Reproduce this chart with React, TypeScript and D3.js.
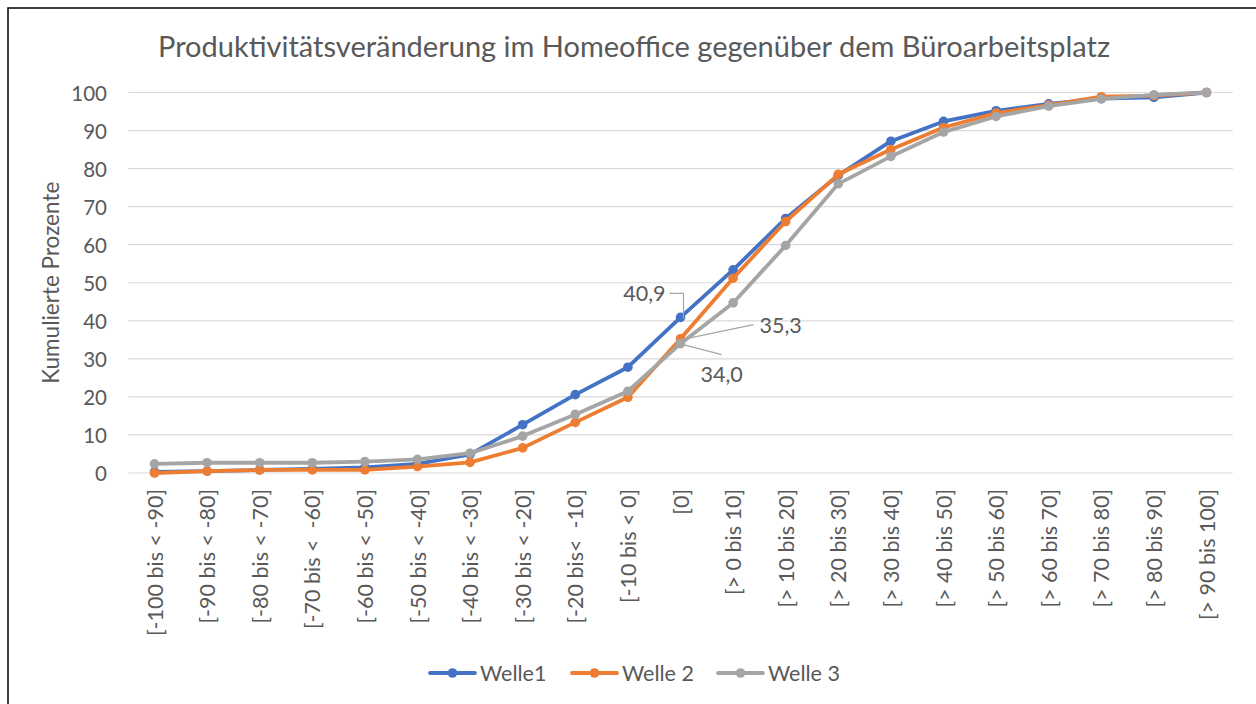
import React from "react";
import * as d3 from "d3";

const categories = [
  "[-100 bis < -90]", "[-90 bis < -80]", "[-80 bis < -70]", "[-70 bis <  -60]",
  "[-60 bis < -50]", "[-50 bis < -40]", "[-40 bis < -30]", "[-30 bis < -20]",
  "[-20 bis<  -10]", "[-10 bis < 0]", "[0]", "[> 0 bis 10]", "[> 10 bis 20]",
  "[> 20 bis 30]", "[> 30 bis 40]", "[> 40 bis 50]", "[> 50 bis 60]",
  "[> 60 bis 70]", "[> 70 bis 80]", "[> 80 bis 90]", "[> 90 bis 100]",
];

const welle1 = [0.3, 0.5, 0.8, 1.1, 1.5, 2.4, 4.9, 12.7, 20.6, 27.8, 40.9, 53.4, 66.9, 78.2, 87.2, 92.4, 95.2, 97.0, 98.4, 98.7, 100];
const welle2 = [0.0, 0.5, 0.8, 0.8, 0.8, 1.7, 2.8, 6.6, 13.3, 19.9, 35.3, 51.2, 66.1, 78.5, 85.0, 90.8, 94.6, 96.7, 98.9, 99.2, 100];
const welle3 = [2.4, 2.7, 2.7, 2.7, 3.0, 3.6, 5.2, 9.7, 15.4, 21.5, 34.0, 44.7, 59.8, 76.0, 83.2, 89.6, 93.7, 96.4, 98.3, 99.4, 100];

const seriesNames = ["Welle1", "Welle 2", "Welle 3"];
const yTicks = [0, 10, 20, 30, 40, 50, 60, 70, 80, 90, 100];

const colors = ["#4472C4", "#ED7D31", "#A5A5A5"];
const FONT = "Lato, 'Open Sans', sans-serif";
const TXT = "#595959";

export default function App() {
  const W = 1256, H = 704;
  const x = d3.scalePoint<string>().domain(categories).range([154.5, 1206.5]);
  const y = d3.scaleLinear().domain([0, 100]).range([473, 92.5]);
  const series = [welle1, welle2, welle3];
  const line = d3
    .line<number>()
    .x((_, i) => x(categories[i]) as number)
    .y((d) => y(d));
  const step = x.step();
  const gx0 = (x(categories[0]) as number) - step / 2;
  const gx1 = (x(categories[categories.length - 1]) as number) + step / 2;

  const labelIdx = 10;
  const px = x(categories[labelIdx]) as number;
  const fmt = (v: number) => v.toFixed(1).replace(".", ",");

  const legendItems = [
    { x0: 430, tx: 480 },
    { x0: 572, tx: 622 },
    { x0: 718, tx: 768 },
  ];

  return (
    <svg
      width={W}
      height={H}
      style={{ position: "absolute", left: 0, top: 0, display: "block", background: "#fff" }}
      fontFamily={FONT}
    >
      <rect x={8} y={8} width={1300} height={800} fill="#fff" stroke="#000" strokeWidth={1.5} />
      <text x={634} y={57} textAnchor="middle" fontSize={29} fill={TXT}>
        Produktivitätsveränderung im Homeoffice gegenüber dem Büroarbeitsplatz
      </text>
      {yTicks.map((t) => (
        <g key={t}>
          <line x1={gx0} x2={gx1} y1={y(t)} y2={y(t)} stroke="#D9D9D9" strokeWidth={1.2} />
          <text x={107} y={y(t)} textAnchor="end" dominantBaseline="central" fontSize={20.5} fill={TXT}>
            {t}
          </text>
        </g>
      ))}
      <text
        transform={`translate(50,${(y(0) + y(100)) / 2}) rotate(-90)`}
        textAnchor="middle"
        dominantBaseline="central"
        fontSize={22.5}
        fill={TXT}
      >
        Kumulierte Prozente
      </text>
      {categories.map((c) => (
        <text
          key={c}
          transform={`translate(${x(c)},489) rotate(-90)`}
          textAnchor="end"
          dominantBaseline="central"
          fontSize={21.5}
          fill={TXT}
          style={{ whiteSpace: "pre" }}
        >
          {c}
        </text>
      ))}
      {series.map((s, si) => (
        <g key={si}>
          <path d={line(s) || ""} fill="none" stroke={colors[si]} strokeWidth={3.8} strokeLinejoin="round" strokeLinecap="round" />
          {s.map((v, i) => (
            <circle key={i} cx={x(categories[i])} cy={y(v)} r={4.8} fill={colors[si]} />
          ))}
        </g>
      ))}
      {/* data labels */}
      <polyline
        points={`${px - 11},${y(welle1[labelIdx]) - 24} ${px + 3},${y(welle1[labelIdx]) - 24} ${px + 3},${y(welle1[labelIdx]) + 1}`}
        fill="none"
        stroke="#A6A6A6"
        strokeWidth={1.2}
      />
      <text x={px - 15} y={y(welle1[labelIdx]) - 24} textAnchor="end" dominantBaseline="central" fontSize={21.5} fill={TXT}>
        {fmt(welle1[labelIdx])}
      </text>
      <line x1={px + 6} y1={y(welle2[labelIdx])} x2={px + 73} y2={y(welle2[labelIdx]) - 14} stroke="#A6A6A6" strokeWidth={1.2} />
      <text x={px + 79} y={y(welle2[labelIdx]) - 14} dominantBaseline="central" fontSize={21.5} fill={TXT}>
        {fmt(welle2[labelIdx])}
      </text>
      <line x1={px + 3} y1={y(welle3[labelIdx]) + 1} x2={px + 41} y2={y(welle3[labelIdx]) + 11} stroke="#A6A6A6" strokeWidth={1.2} />
      <text x={px + 20} y={y(welle3[labelIdx]) + 30} dominantBaseline="central" fontSize={21.5} fill={TXT}>
        {fmt(welle3[labelIdx])}
      </text>
      {/* legend */}
      {seriesNames.map((n, i) => (
        <g key={n}>
          <line x1={legendItems[i].x0} x2={legendItems[i].x0 + 45} y1={673} y2={673} stroke={colors[i]} strokeWidth={3.8} strokeLinecap="round" />
          <circle cx={legendItems[i].x0 + 22.5} cy={673} r={4.8} fill={colors[i]} />
          <text x={legendItems[i].tx} y={673} dominantBaseline="central" fontSize={21.5} fill={TXT}>
            {n}
          </text>
        </g>
      ))}
    </svg>
  );
}
